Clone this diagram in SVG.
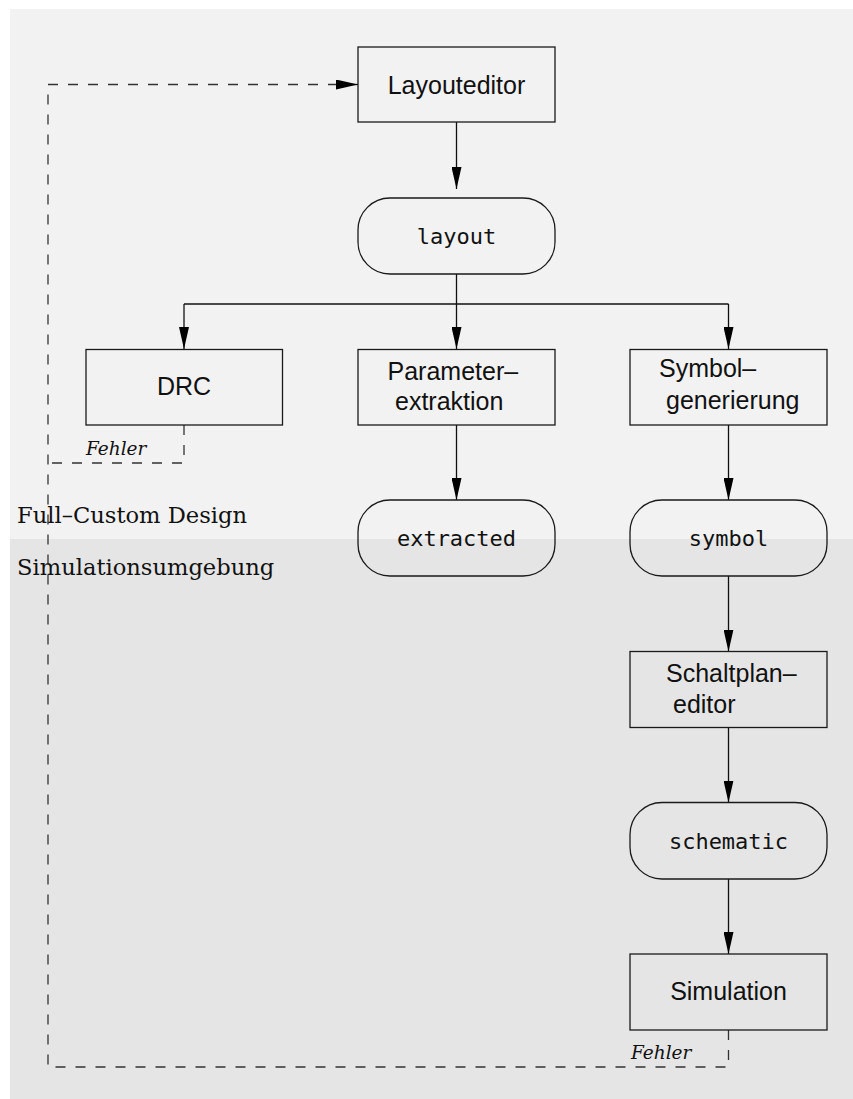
<svg xmlns="http://www.w3.org/2000/svg" width="853" height="1099" viewBox="0 0 853 1099">
<style>
.box{fill:none;stroke:#1a1a1a;stroke-width:1.3}
.lbl{font-family:"Liberation Sans",Arial,sans-serif;font-size:25px;fill:#111}
.mono{font-family:"DejaVu Sans Mono",monospace;font-size:22px;fill:#111;text-anchor:middle}
.c{text-anchor:middle}
.edge{fill:none;stroke:#111;stroke-width:1.3}
.dash{fill:none;stroke:#333;stroke-width:1.3;stroke-dasharray:10 10}
.region{font-family:"DejaVu Serif",serif;font-size:22.6px;fill:#111}
.err{font-family:"DejaVu Serif",serif;font-style:italic;font-size:18.5px;fill:#111}
</style>
<defs>
<marker id="ah" markerUnits="userSpaceOnUse" markerWidth="22" markerHeight="10" refX="22" refY="5" orient="auto">
<path d="M0,0 L22,5 L0,10 Z" fill="#000"/>
</marker>
</defs>
<g id="background">
<rect x="10" y="9" width="843" height="530" fill="#f2f2f2"/>
<rect x="10" y="539" width="843" height="560" fill="#e5e5e5"/>
<text class="region" x="17" y="523">Full–Custom Design</text>
<text class="region" x="17" y="575">Simulationsumgebung</text>
</g>
<g id="connectors">
<path class="edge" d="M456.5,122 V189" marker-end="url(#ah)"/>
<path class="edge" d="M456.5,274 V349" marker-end="url(#ah)"/>
<path class="edge" d="M184,304 H728.5"/>
<path class="edge" d="M184,304 V349" marker-end="url(#ah)"/>
<path class="edge" d="M728.5,304 V349" marker-end="url(#ah)"/>
<path class="edge" d="M456.5,425 V500" marker-end="url(#ah)"/>
<path class="edge" d="M728.5,425 V500" marker-end="url(#ah)"/>
<path class="edge" d="M728.5,576 V651.5" marker-end="url(#ah)"/>
<path class="edge" d="M728.5,727.5 V802.5" marker-end="url(#ah)"/>
<path class="edge" d="M728.5,879 V954" marker-end="url(#ah)"/>
<path class="dash" d="M728.5,1030 V1067 H48 V84.5 H336"/>
<path class="edge" d="M336,84.5 H358" marker-end="url(#ah)"/>
<path class="dash" d="M184,425 V463 H48"/>
<text class="err" x="86" y="455">Fehler</text>
<text class="err" x="631" y="1059">Fehler</text>
</g>
<g id="layouteditor">
<rect class="box" x="358" y="47" width="197" height="75"/>
<text class="lbl c" x="456.5" y="93.5">Layouteditor</text>
</g>
<g id="layout">
<rect class="box" x="358" y="198" width="197" height="76" rx="32" ry="32"/>
<text class="mono" x="456.5" y="243.5">layout</text>
</g>
<g id="drc">
<rect class="box" x="86" y="349.5" width="196.5" height="75.5"/>
<text class="lbl c" x="184" y="395">DRC</text>
</g>
<g id="parameterextraktion">
<rect class="box" x="358" y="349.5" width="197" height="75.5"/>
<text class="lbl" x="387.5" y="380">Parameter–</text>
<text class="lbl" x="395" y="409.5">extraktion</text>
</g>
<g id="symbolgenerierung">
<rect class="box" x="630" y="349.5" width="197" height="75.5"/>
<text class="lbl" x="659" y="377">Symbol–</text>
<text class="lbl" x="666" y="408.5">generierung</text>
</g>
<g id="extracted">
<rect class="box" x="358" y="500" width="197" height="76" rx="32" ry="32"/>
<text class="mono" x="456.5" y="546">extracted</text>
</g>
<g id="symbol">
<rect class="box" x="630" y="500" width="197" height="76" rx="32" ry="32"/>
<text class="mono" x="728.5" y="546">symbol</text>
</g>
<g id="schaltplaneditor">
<rect class="box" x="630" y="651.5" width="197" height="76"/>
<text class="lbl" x="666" y="682">Schaltplan–</text>
<text class="lbl" x="673" y="713">editor</text>
</g>
<g id="schematic">
<rect class="box" x="630" y="802.5" width="197" height="76.5" rx="32" ry="32"/>
<text class="mono" x="728.5" y="849">schematic</text>
</g>
<g id="simulation">
<rect class="box" x="630" y="954" width="197" height="76"/>
<text class="lbl c" x="728.5" y="1000">Simulation</text>
</g>
</svg>
